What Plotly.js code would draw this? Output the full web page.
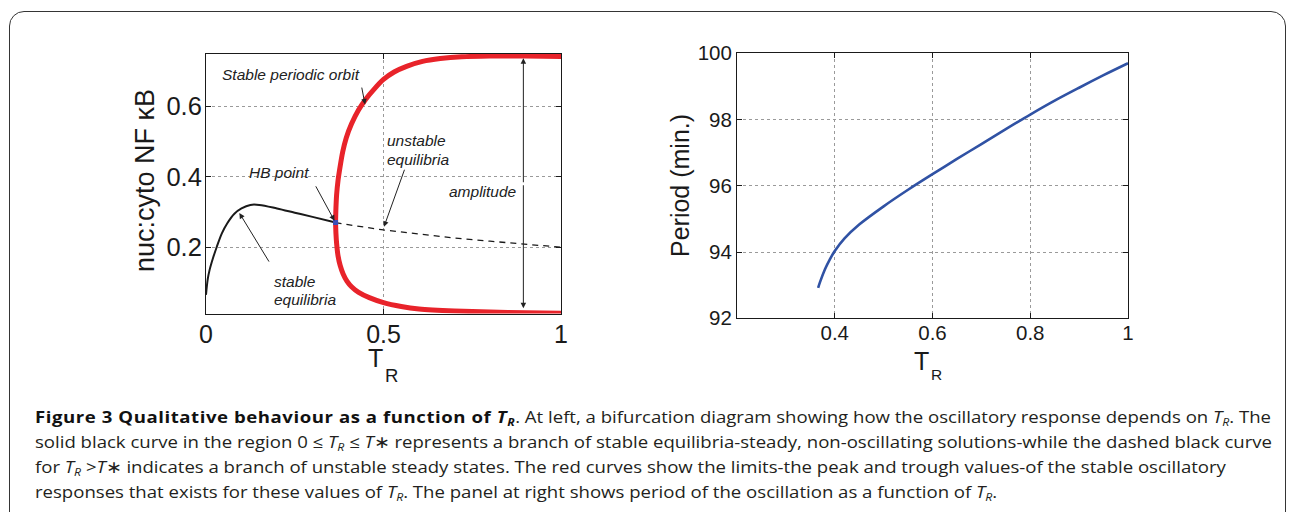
<!DOCTYPE html>
<html>
<head>
<meta charset="utf-8">
<script src="https://cdn.plot.ly/plotly-3.0.1.min.js"></script>
<style>
  html, body { margin: 0; padding: 0; width: 1290px; height: 512px; overflow: hidden; background: #fff; }
  #frame { position: absolute; left: 9px; top: 11px; width: 1277px; height: 640px;
           border: 1.6px solid #353535; border-radius: 15px; box-sizing: border-box; }
  #chart { position: absolute; left: 0; top: 0; width: 1290px; height: 512px; }
  #caption { position: absolute; left: 35px; top: 404px; font-family: 'Open Sans', sans-serif;
             font-size: 16.5px; line-height: 25px; color: #231f20; transform-origin: 0 0; white-space: nowrap; }
  #caption .ln { white-space: nowrap; }
  #caption sub { font-size: 66%; vertical-align: -0.3em; line-height: 0; }
  #caption b { font-weight: 700; color: #111; }
</style>
</head>
<body>
<div id="frame"></div>
<div id="chart"></div>
<div id="caption">
  <div class="ln"><b>Figure 3 Qualitative behaviour as a function of <i>T<sub>R</sub></i></b>. At left, a bifurcation diagram showing how the oscillatory response depends on <i>T<sub>R</sub></i>. The</div>
  <div class="ln">solid black curve in the region 0 ≤ <i>T<sub>R</sub></i> ≤ <i>T</i>∗ represents a branch of stable equilibria-steady, non-oscillating solutions-while the dashed black curve</div>
  <div class="ln">for <i>T<sub>R</sub></i> &gt;<i>T</i>∗ indicates a branch of unstable steady states. The red curves show the limits-the peak and trough values-of the stable oscillatory</div>
  <div class="ln">responses that exists for these values of <i>T<sub>R</sub></i>. The panel at right shows period of the oscillation as a function of <i>T<sub>R</sub></i>.</div>
</div>
<script>
// ---- Bifurcation diagram: nuc:cyto NF-kB vs T_R ----
// stable equilibrium branch (solid black), up to the Hopf point
const stableT = [0, 0.005, 0.01, 0.02, 0.03, 0.045, 0.06, 0.08, 0.1, 0.125, 0.15, 0.2, 0.25, 0.3, 0.365];
const stableY = [0.065, 0.11, 0.135, 0.17, 0.2, 0.24, 0.268, 0.295, 0.31, 0.32, 0.32, 0.31, 0.298, 0.286, 0.27];
// unstable equilibrium branch (dashed black)
const unstableT = [0.365, 0.4, 0.5, 0.6, 0.7, 0.8, 0.9, 1.0];
const unstableY = [0.270, 0.264, 0.249, 0.237, 0.226, 0.217, 0.208, 0.200];
// stable periodic orbit: peak values
const peakT = [0.365, 0.366, 0.368, 0.372, 0.378, 0.385, 0.395, 0.41, 0.43, 0.45, 0.475, 0.5, 0.53, 0.565, 0.61, 0.66, 0.72, 0.8, 0.9, 1.0];
const peakY = [0.27, 0.31, 0.35, 0.39, 0.43, 0.47, 0.51, 0.55, 0.59, 0.62, 0.65, 0.676, 0.697, 0.713, 0.727, 0.735, 0.74, 0.742, 0.742, 0.741];
// stable periodic orbit: trough values
const troughT = [0.365, 0.366, 0.368, 0.372, 0.378, 0.386, 0.397, 0.41, 0.43, 0.46, 0.5, 0.55, 0.6, 0.7, 0.8, 0.9, 1.0];
const troughY = [0.27, 0.24, 0.21, 0.175, 0.148, 0.125, 0.104, 0.088, 0.072, 0.057, 0.043, 0.032, 0.025, 0.019, 0.016, 0.014, 0.013];
// Hopf bifurcation point
const hbT = [0.365];
const hbY = [0.27];

// ---- Period of the oscillation vs T_R ----
const periodT = [0.366, 0.37, 0.38, 0.39, 0.40, 0.42, 0.45, 0.50, 0.55, 0.60, 0.65, 0.70, 0.75, 0.80, 0.85, 0.90, 0.95, 1.00];
const periodY = [92.92, 93.10, 93.48, 93.78, 94.03, 94.41, 94.83, 95.38, 95.88, 96.35, 96.81, 97.26, 97.71, 98.15, 98.57, 98.96, 99.34, 99.70];

// tick labels
const leftXTicks = [0, 0.5, 1], leftXText = ['0', '0.5', '1'];
const leftYTicks = [0.2, 0.4, 0.6], leftYText = ['0.2', '0.4', '0.6'];
const rightXTicks = [0.4, 0.6, 0.8, 1], rightXText = ['0.4', '0.6', '0.8', '1'];
const rightYTicks = [92, 94, 96, 98, 100], rightYText = ['92', '94', '96', '98', '100'];

const W = 1290, H = 512;
const px = v => v / W;          // pixel -> paper x
const py = v => 1 - v / H;      // pixel -> paper y

const RED = '#e8232a', BLUE = '#3052a4', INK = '#1a1a1a';
const AX_FONT = 'Liberation Sans, Arial, Helvetica, sans-serif';

const traces = [
  { x: stableT, y: stableY, mode: 'lines', line: { color: INK, width: 2, shape: 'spline' }, xaxis: 'x', yaxis: 'y' },
  { x: unstableT, y: unstableY, mode: 'lines', line: { color: INK, width: 1.3, dash: '6px,5px' }, xaxis: 'x', yaxis: 'y' },
  { x: peakT, y: peakY, mode: 'lines', line: { color: RED, width: 5, shape: 'spline', smoothing: 0.6 }, xaxis: 'x', yaxis: 'y' },
  { x: troughT, y: troughY, mode: 'lines', line: { color: RED, width: 5, shape: 'spline', smoothing: 0.6 }, xaxis: 'x', yaxis: 'y' },
  { x: hbT, y: hbY, mode: 'markers', marker: { color: '#3b4fb8', size: 5, symbol: 'square' }, xaxis: 'x', yaxis: 'y' },
  { x: periodT, y: periodY, mode: 'lines', line: { color: BLUE, width: 2.6, shape: 'spline', smoothing: 0.8 }, xaxis: 'x2', yaxis: 'y2' }
];

const axisCommon = {
  showline: true, linecolor: INK, linewidth: 1, mirror: 'ticks',
  ticks: 'inside', ticklen: 5, tickwidth: 1, tickcolor: INK,
  showgrid: true, gridcolor: '#9a9a9a', gridwidth: 1, griddash: 'dot',
  zeroline: false, automargin: false, fixedrange: true
};

// text annotations on the bifurcation diagram
const label = (text, x, y, xanchor, size) => ({
  xref: 'x', yref: 'y', x, y, text: '<i>' + text + '</i>', showarrow: false,
  xanchor, yanchor: 'middle', font: { family: AX_FONT, size: size || 15.5, color: '#222' }
});
// arrows: tail (ax, ay) -> head (x, y), all in data units
const arrow = (tx, ty, hx, hy) => ({
  xref: 'x', yref: 'y', axref: 'x', ayref: 'y', x: hx, y: hy, ax: tx, ay: ty,
  text: '', showarrow: true, arrowhead: 2, arrowsize: 1.1, arrowwidth: 1, arrowcolor: '#222', standoff: 0
});
const paperText = (text, x, y, size, opts) => Object.assign({
  xref: 'paper', yref: 'paper', x: px(x), y: py(y), text, showarrow: false,
  xanchor: 'center', yanchor: 'middle', font: { family: AX_FONT, size, color: INK }
}, opts || {});

const annotations = [
  label('Stable periodic orbit', 0.039, 0.689, 'left'),
  arrow(0.438, 0.657, 0.448, 0.605),
  label('HB point', 0.2056, 0.411, 'center'),
  arrow(0.307, 0.377, 0.362, 0.275),
  label('stable', 0.186, 0.1016, 'left'),
  label('equilibria', 0.186, 0.0505, 'left'),
  arrow(0.180, 0.155, 0.094, 0.297),
  label('unstable', 0.504, 0.5016, 'left'),
  label('equilibria', 0.504, 0.4477, 'left'),
  arrow(0.5606, 0.424, 0.5014, 0.258),
  label('amplitude', 0.8817, 0.3577, 'right'),
  // double-headed amplitude arrow
  arrow(0.894, 0.38, 0.894, 0.736),
  arrow(0.894, 0.38, 0.894, 0.027),
  // axis titles (T with a lowered subscript R)
  paperText('nuc:cyto NF κB', 145, 181, 27, { textangle: -90 }),
  paperText('T', 375, 358, 25),
  paperText('R', 391.5, 375, 18.5),
  paperText('Period (min.)', 680, 186, 25, { textangle: -90 }),
  paperText('T', 921, 361, 25),
  paperText('R', 936, 374, 15.5)
];

const layout = {
  width: W, height: H, margin: { l: 0, r: 0, t: 0, b: 0 },
  paper_bgcolor: 'rgba(0,0,0,0)', plot_bgcolor: '#fff', showlegend: false,
  xaxis: Object.assign({}, axisCommon, {
    domain: [px(206), px(561)], range: [0, 1], anchor: 'y',
    tickvals: leftXTicks, ticktext: leftXText, ticklabelstandoff: -2,
    tickfont: { family: AX_FONT, size: 25, color: INK }
  }),
  yaxis: Object.assign({}, axisCommon, {
    domain: [py(313.5), py(54)], range: [0.012, 0.748], anchor: 'x',
    tickvals: leftYTicks, ticktext: leftYText, ticklabelstandoff: -2,
    tickfont: { family: AX_FONT, size: 25.5, color: INK }
  }),
  xaxis2: Object.assign({}, axisCommon, {
    domain: [px(737), px(1128)], range: [0.2, 1], anchor: 'y2',
    tickvals: rightXTicks, ticktext: rightXText, ticklabelstandoff: -4,
    tickfont: { family: AX_FONT, size: 20.5, color: INK }
  }),
  yaxis2: Object.assign({}, axisCommon, {
    domain: [py(318.3), py(53.3)], range: [92, 100], anchor: 'x2',
    tickvals: rightYTicks, ticktext: rightYText, ticklabelstandoff: 0,
    tickfont: { family: AX_FONT, size: 20.5, color: INK }
  }),
  annotations
};

Plotly.newPlot('chart', traces, layout, { displayModeBar: false, staticPlot: true });

// Caption typesetting: squeeze the block so the second line fills the text
// width, widen the bold lead-in a touch, and fit the first line's spacing.
function fitCaption() {
  const cap = document.getElementById('caption');
  const lines = Array.from(cap.querySelectorAll('.ln'));
  const bold = lines[0].querySelector('b');
  bold.style.letterSpacing = '0.5px';
  bold.style.wordSpacing = '0px';
  lines.forEach(l => { l.style.display = 'inline-block'; });
  const s = 1237 / lines[1].getBoundingClientRect().width;
  const w0 = lines[0].getBoundingClientRect().width;
  const spaces = (lines[0].textContent.match(/ /g) || []).length - (bold.textContent.match(/ /g) || []).length;
  lines[0].style.wordSpacing = ((1236 / s - w0) / spaces).toFixed(3) + 'px';
  bold.style.wordSpacing = '0px';
  lines.forEach(l => { l.style.display = 'block'; });
  cap.style.transform = 'scaleX(' + s.toFixed(4) + ')';
}
(document.fonts ? document.fonts.ready : Promise.resolve()).then(fitCaption);
</script>
</body>
</html>
